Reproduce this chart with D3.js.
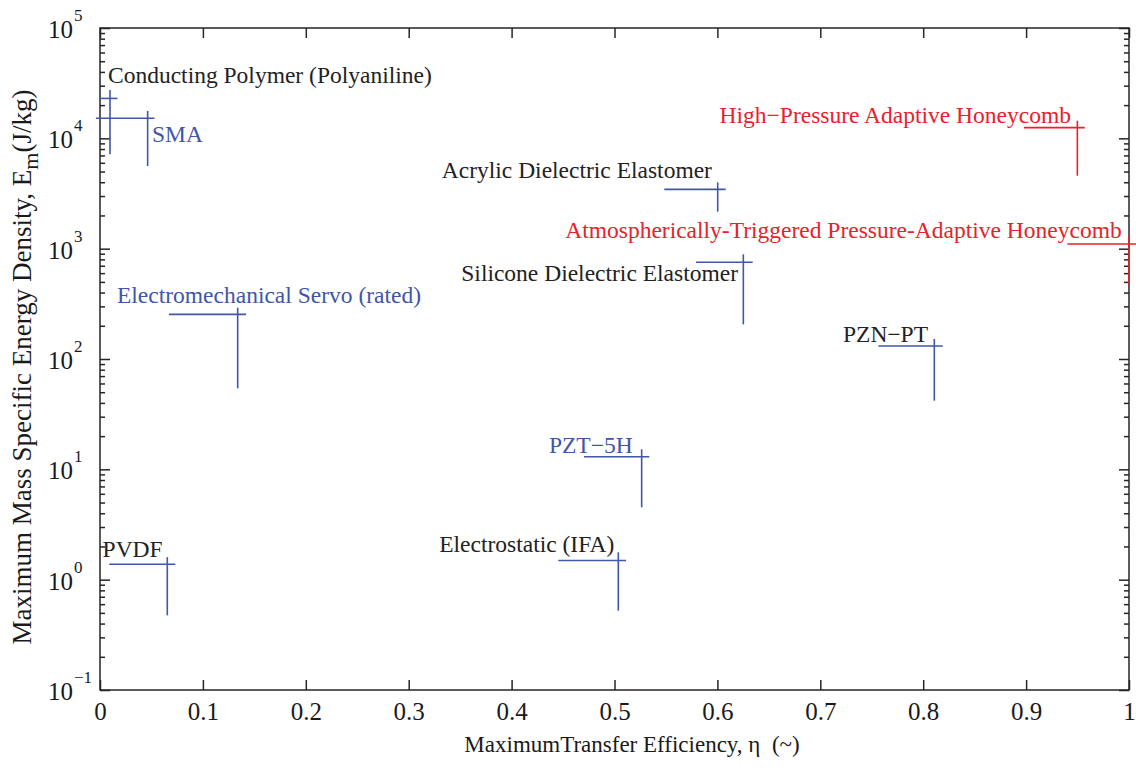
<!DOCTYPE html>
<html>
<head>
<meta charset="utf-8">
<script src="https://cdn.jsdelivr.net/npm/d3@7"></script>
<style>
  html, body { margin: 0; padding: 0; background: #fff; }
  svg { display: block; font-family: "Liberation Serif", "Times New Roman", serif; }
</style>
</head>
<body>
<svg id="chart" width="1136" height="771"></svg>
<script>
// ---- data ----
const names = [
  "Conducting Polymer (Polyaniline)", "SMA", "Electromechanical Servo (rated)",
  "PZT\u22125H", "Electrostatic (IFA)", "PVDF",
  "Acrylic Dielectric Elastomer", "Silicone Dielectric Elastomer", "PZN\u2212PT",
  "High\u2212Pressure Adaptive Honeycomb", "Atmospherically-Triggered Pressure-Adaptive Honeycomb"
];
const eta     = [0.0097, 0.0463, 0.1338, 0.5264, 0.5037, 0.0654, 0.6003, 0.6252, 0.8108, 0.9498, 1.000];
const etaLow  = [0.000, -0.004, 0.067, 0.4704, 0.4454, 0.009, 0.5484, 0.5792, 0.7564, 0.898, 0.940];
const etaHigh = [0.017, 0.053, 0.142, 0.5338, 0.5112, 0.0732, 0.6081, 0.6343, 0.819, 0.957, 1.040];
const em      = [23000, 15200, 254, 13.0, 1.49, 1.38, 3450, 752, 131, 12500, 1103];
const emHigh  = [27400, 17700, 292, 15.2, 1.77, 1.60, 3990, 889, 152, 14450, 1330];
const emLow   = [7160, 5610, 54.2, 4.53, 0.524, 0.475, 2163, 206, 41.9, 4585, 469];
const group   = ["conv","conv","conv","conv","conv","conv","conv","conv","conv","honey","honey"];
const labelGroup = ["black","blue","blue","blue","black","black","black","black","black","red","red"];
// label anchor points (data units)
const labelEta = [0.0078, 0.0505, 0.0165, 0.5177, 0.4998, 0.0609, 0.5947, 0.620, 0.8047, 0.9436, 0.9929];
const labelEm  = [31700, 9170, 320, 14.0, 1.77, 1.61, 4370, 509, 143.5, 13700, 1258];
const labelAnchor = ["start","start","start","end","end","end","end","end","end","end","end"];

const xTicks = [0, 0.1, 0.2, 0.3, 0.4, 0.5, 0.6, 0.7, 0.8, 0.9, 1];
const xTickLabels = ["0","0.1","0.2","0.3","0.4","0.5","0.6","0.7","0.8","0.9","1"];
const yExponents = [-1, 0, 1, 2, 3, 4, 5];
const xTitle = "MaximumTransfer Efficiency, \u03B7\u00A0\u00A0(~)";

// ---- layout ----
const L = 100, R = 1129, T = 28, B = 690;
const axisColor = "#262626";
const colors = { blue: "#3f56a8", red: "#e8212b", black: "#222222" };
const markColor = { conv: "#4057aa", honey: "#e8212b" };

const svg = d3.select("#chart");
svg.append("rect").attr("width", 1136).attr("height", 771).attr("fill", "#fff");

const x = d3.scaleLinear().domain([0, 1]).range([L, R]);
const y = d3.scaleLog().domain([0.1, 1e5]).range([B, T]);

// ---- axes ----
const gx = svg.append("g").attr("transform", `translate(0,${B})`)
  .call(d3.axisBottom(x).tickValues(xTicks).tickFormat((d, i) => xTickLabels[i])
    .tickSizeInner(-10).tickSizeOuter(0).tickPadding(12));
const gxTop = svg.append("g").attr("transform", `translate(0,${T})`)
  .call(d3.axisTop(x).tickValues(xTicks).tickFormat("").tickSizeInner(-10).tickSizeOuter(0));

const minorVals = [];
for (let e = -1; e < 5; e++) for (let m = 2; m <= 9; m++) minorVals.push(m * Math.pow(10, e));
const majorVals = yExponents.map(e => Math.pow(10, e));

svg.append("g").attr("transform", `translate(${L},0)`)
  .call(d3.axisLeft(y).tickValues(majorVals).tickFormat("").tickSizeInner(-10).tickSizeOuter(0));
svg.append("g").attr("transform", `translate(${L},0)`)
  .call(d3.axisLeft(y).tickValues(minorVals).tickFormat("").tickSizeInner(-5).tickSizeOuter(0));
svg.append("g").attr("transform", `translate(${R},0)`)
  .call(d3.axisRight(y).tickValues(majorVals).tickFormat("").tickSizeInner(-10).tickSizeOuter(0));
svg.append("g").attr("transform", `translate(${R},0)`)
  .call(d3.axisRight(y).tickValues(minorVals).tickFormat("").tickSizeInner(-5).tickSizeOuter(0));

svg.selectAll(".domain").remove();
svg.selectAll(".tick line").attr("stroke", axisColor).attr("stroke-width", 1.5);
gx.selectAll(".tick text").attr("font-size", 25).attr("fill", "#1a1a1a")
  .attr("font-family", "Liberation Serif, serif");

// box
svg.append("rect").attr("x", L).attr("y", T).attr("width", R - L).attr("height", B - T)
  .attr("fill", "none").attr("stroke", axisColor).attr("stroke-width", 1.5);

// y tick labels with superscripts
const ylab = svg.append("g");
yExponents.forEach(e => {
  const yy = y(Math.pow(10, e));
  ylab.append("text").attr("x", 73).attr("y", yy + 10)
    .attr("text-anchor", "end").attr("font-size", 25).attr("fill", "#1a1a1a").text("10");
  ylab.append("text").attr("x", 74).attr("y", yy - 7)
    .attr("font-size", 17).attr("fill", "#1a1a1a").text(e < 0 ? "\u2212" + Math.abs(e) : String(e));
});

// ---- marks ----
const idx = d3.range(names.length);
const marks = svg.append("g");
marks.selectAll("line.h").data(idx).join("line").attr("class", "h")
  .attr("x1", i => x(etaLow[i])).attr("x2", i => x(etaHigh[i]))
  .attr("y1", i => y(em[i])).attr("y2", i => y(em[i]))
  .attr("stroke", i => markColor[group[i]]).attr("stroke-width", 1.6);
marks.selectAll("line.v").data(idx).join("line").attr("class", "v")
  .attr("x1", i => x(eta[i])).attr("x2", i => x(eta[i]))
  .attr("y1", i => y(emHigh[i])).attr("y2", i => y(emLow[i]))
  .attr("stroke", i => markColor[group[i]]).attr("stroke-width", 1.6);

// labels
marks.selectAll("text.lab").data(idx).join("text").attr("class", "lab")
  .attr("x", i => x(labelEta[i])).attr("y", i => y(labelEm[i]))
  .attr("text-anchor", i => labelAnchor[i])
  .attr("font-size", 23.5).attr("fill", i => colors[labelGroup[i]])
  .text(i => names[i]);

// ---- axis titles ----
svg.append("text").attr("x", 632).attr("y", 752).attr("text-anchor", "middle")
  .attr("font-size", 23).attr("fill", "#1a1a1a").text(xTitle);

const yt = svg.append("text").attr("transform", "translate(31,367) rotate(-90)")
  .attr("text-anchor", "middle").attr("font-size", 27).attr("fill", "#1a1a1a");
yt.append("tspan").text("Maximum Mass Specific Energy Density, E");
yt.append("tspan").attr("dy", 7).attr("font-size", 22).text("m");
yt.append("tspan").attr("dy", -7).text("(J/kg)");
</script>
</body>
</html>
